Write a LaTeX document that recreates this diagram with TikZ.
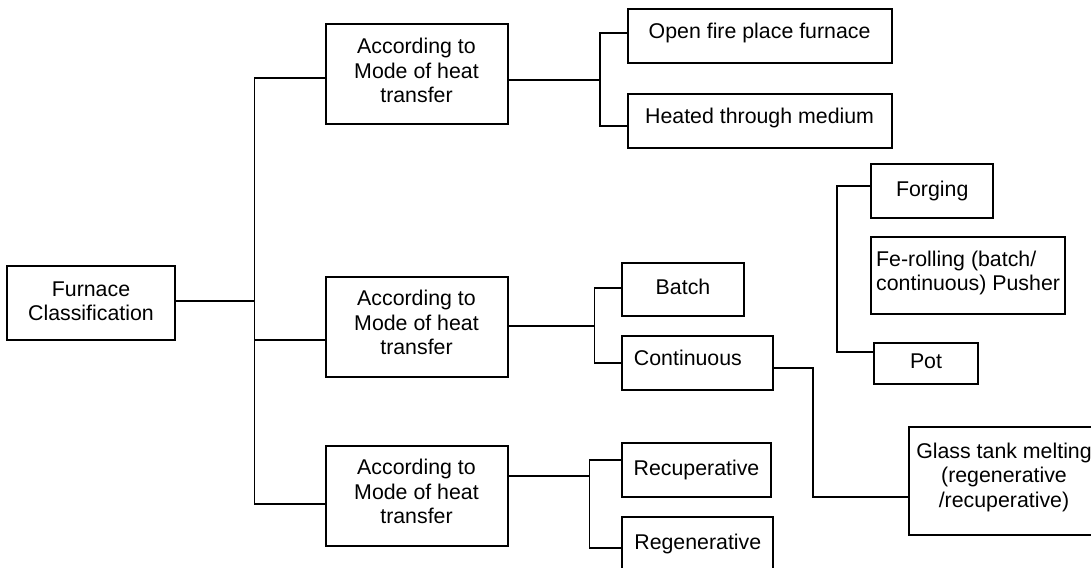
\documentclass[tikz,border=0pt]{standalone}
\usepackage{fontspec}
\setmainfont{Liberation Sans}
\tikzset{
  box/.style={draw,line width=1.5pt,inner sep=0pt,align=center,
    font=\fontsize{16}{18.4}\selectfont,minimum height=40.5pt},
  single/.style={box,text height=11.8pt,text depth=3.9pt},
  link/.style={line width=1.3pt}
}
\begin{document}
\begin{tikzpicture}[x=0.75pt,y=-0.75pt]
\useasboundingbox (0,0) rectangle (1091,567);
\node[box,minimum width=125.6pt,minimum height=55.5pt,text depth=2.5pt] (fc) at (91,303) {Furnace\\Classification};
\node[box,minimum width=136.5pt,minimum height=75pt,text depth=6pt] (m1) at (416.5,74.3) {According to\\Mode of heat\\transfer};
\node[box,minimum width=136.5pt,minimum height=75pt,text depth=6pt] (m2) at (416.5,326.7) {According to\\Mode of heat\\transfer};
\node[box,minimum width=136.5pt,minimum height=75pt,text depth=6pt] (m3) at (416.5,495.7) {According to\\Mode of heat\\transfer};
\node[single,minimum width=197.9pt,minimum height=40.3pt,text depth=7.9pt] (open) at (759.6,35.9) {Open fire place furnace};
\node[single,minimum width=197.9pt,minimum height=40.3pt,text depth=7.9pt] (heated) at (759.6,120.9) {Heated through medium};
\node[single,minimum width=91.3pt,minimum height=40pt] (batch) at (683,289.4) {Batch};
\node[single,text width=95pt,inner xsep=8.9pt,align=left,text depth=7.9pt] (cont) at (697.3,362.9) {Continuous};
\node[single,minimum width=111.3pt] (recup) at (696.5,470.3) {Recuperative};
\node[single,minimum width=113.3pt,minimum height=40.8pt] (regen) at (697.8,543.9) {Regenerative};
\node[single,minimum width=91.6pt] (forging) at (932.2,191) {Forging};
\node[box,minimum width=145.5pt,minimum height=57.5pt,align=left,text depth=7.4pt] (ferolling) at (968.1,275.7) {Fe-rolling (batch/\\continuous) Pusher};
\node[single,minimum width=78.6pt,minimum height=31pt] (pot) at (926,363.4) {Pot};
\node[box,minimum width=142.5pt,minimum height=80.8pt,text depth=9.6pt] (glass) at (1004,481.2) {Glass tank melting\\(regenerative\\/recuperative)};
\coordinate (j0) at (254.5,301);
\coordinate (j1) at (600.3,80);
\coordinate (j2) at (594.4,325.7);
\coordinate (j3) at (589.5,475.7);
\coordinate (j4) at (837.1,186);
\coordinate (j5) at (812.9,497.3);
\draw[link] (fc.east |- j0) -- (j0);
\draw[link] (m1.west |- 0,77.7) -| (j0) |- (m3.west |- 0,504.3);
\draw[link] (m2.west |- 0,340) -- (j0 |- 0,340);
\draw[link] (m1.east |- j1) -- (j1);
\draw[link] (open.west |- 0,33.3) -| (j1) |- (heated.west |- 0,125.7);
\draw[link] (m2.east |- j2) -- (j2);
\draw[link] (batch.west |- 0,287.7) -| (j2) |- (cont.west |- 0,363.3);
\draw[link] (m3.east |- j3) -- (j3);
\draw[link] (recup.west |- 0,460) -| (j3) |- (regen.west |- 0,548.3);
\draw[link] (forging.west |- j4) -- (j4) |- (pot.west |- 0,352.3);
\draw[link] (cont.east |- 0,368.3) -| (j5) -- (glass.west |- j5);
\end{tikzpicture}
\end{document}
